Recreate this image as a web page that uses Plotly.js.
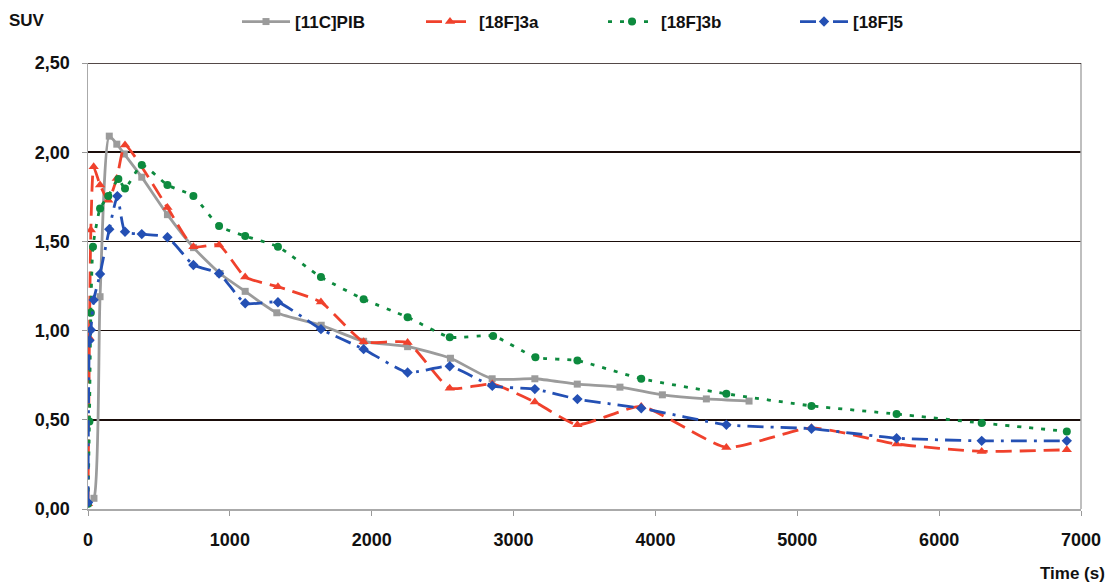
<!DOCTYPE html>
<html>
<head>
<meta charset="utf-8">
<script src="https://cdn.plot.ly/plotly-3.0.1.min.js"></script>
<style>html,body{margin:0;padding:0;background:#fff;}#chart{width:1108px;height:584px;}</style>
</head>
<body>
<div id="chart"></div>
<script>
// [11C]PIB
const pibTime = [0, 42, 85, 150, 203, 256, 379, 560, 744, 931, 1108, 1331, 1644, 1943, 2253, 2555, 2849, 3150, 3449, 3750, 4049, 4359, 4660];
const pibSUV  = [0.03, 0.06, 1.19, 2.09, 2.045, 1.99, 1.86, 1.65, 1.465, 1.32, 1.22, 1.10, 1.03, 0.94, 0.91, 0.845, 0.73, 0.73, 0.70, 0.683, 0.64, 0.617, 0.605];
// [18F]3a
const f3aTime = [0, 10, 20, 40, 85, 143, 203, 261, 560, 743, 924, 1108, 1339, 1642, 1943, 2253, 2550, 2850, 3150, 3450, 3900, 4500, 5100, 5700, 6300, 6900];
const f3aSUV  = [0.03, 0.96, 1.564, 1.918, 1.816, 1.73, 1.853, 2.04, 1.69, 1.47, 1.48, 1.30, 1.246, 1.16, 0.938, 0.933, 0.677, 0.70, 0.60, 0.472, 0.575, 0.345, 0.455, 0.364, 0.323, 0.332];
// [18F]3b
const f3bTime = [0, 10, 20, 35, 85, 143, 214, 261, 379, 560, 743, 924, 1108, 1339, 1642, 1943, 2253, 2550, 2856, 3154, 3450, 3900, 4500, 5100, 5700, 6300, 6900];
const f3bSUV  = [0.03, 0.49, 1.10, 1.47, 1.685, 1.755, 1.85, 1.797, 1.928, 1.816, 1.754, 1.586, 1.53, 1.47, 1.30, 1.176, 1.075, 0.963, 0.97, 0.851, 0.832, 0.73, 0.646, 0.578, 0.532, 0.482, 0.435];
// [18F]5
const f5Time = [0, 10, 20, 40, 85, 150, 207, 261, 379, 560, 743, 924, 1108, 1339, 1642, 1943, 2253, 2550, 2850, 3150, 3450, 3900, 4500, 5100, 5700, 6300, 6900];
const f5SUV  = [0.037, 0.944, 1.004, 1.172, 1.317, 1.568, 1.754, 1.554, 1.541, 1.523, 1.368, 1.32, 1.153, 1.159, 1.008, 0.896, 0.765, 0.80, 0.69, 0.672, 0.616, 0.565, 0.472, 0.45, 0.397, 0.382, 0.382];

const seriesNames = ["[11C]PIB", "[18F]3a", "[18F]3b", "[18F]5"];
const yTicks = [0, 0.5, 1, 1.5, 2, 2.5];
const xTicks = [0, 1000, 2000, 3000, 4000, 5000, 6000, 7000];

const FONT = "Liberation Sans, Arial, sans-serif";
const legFont = {family: FONT, size: 17, color: "#111", weight: "bold"};
function leg(xpx) {
  return {orientation: "h", xref: "container", yref: "container", x: xpx / 1108, y: 1 - 22 / 584,
          xanchor: "left", yanchor: "middle", font: legFont, itemwidth: 48, bgcolor: "rgba(0,0,0,0)",
          borderwidth: 0};
}

const traces = [
  {x: pibTime, y: pibSUV, name: seriesNames[0], mode: "lines+markers", legend: "legend",
   line: {color: "#9b9b9b", width: 2.8, shape: "spline", smoothing: 0.6},
   marker: {symbol: "square", size: 7, color: "#9b9b9b"}},
  {x: f3aTime, y: f3aSUV, name: seriesNames[1], mode: "lines+markers", legend: "legend2",
   line: {color: "#f0412c", width: 2.8, dash: "16px,8px", shape: "spline", smoothing: 0.5},
   marker: {symbol: "triangle-up", size: 9, color: "#f0412c"}},
  {x: f3bTime, y: f3bSUV, name: seriesNames[2], mode: "lines+markers", legend: "legend3",
   line: {color: "#0d8a3e", width: 2.8, dash: "4px,8px", shape: "spline", smoothing: 0.5},
   marker: {symbol: "circle", size: 8, color: "#0d8a3e"}},
  {x: f5Time, y: f5SUV, name: seriesNames[3], mode: "lines+markers", legend: "legend4",
   line: {color: "#2450b4", width: 2.8, dash: "16px,7px,3px,7px", shape: "spline", smoothing: 0.5},
   marker: {symbol: "diamond", size: 8, color: "#2450b4"}}
];

const layout = {
  width: 1108, height: 584,
  margin: {l: 88, r: 27, t: 63, b: 75, autoexpand: false},
  paper_bgcolor: "#fff", plot_bgcolor: "#fff",
  separators: ", ",
  showlegend: true,
  legend: leg(237), legend2: leg(421), legend3: leg(603), legend4: leg(795),
  xaxis: {range: [0, 7000], tickvals: xTicks, ticks: "outside", ticklen: 5, tickcolor: "#999",
          showline: true, linecolor: "#aaa", linewidth: 1.5, mirror: false, showgrid: false, zeroline: false,
          tickfont: {family: FONT, size: 18, color: "#111", weight: "bold"}, ticklabelstandoff: 9},
  yaxis: {range: [0, 2.5], tickvals: yTicks, tickformat: ".2f", ticks: "outside", ticklen: 5, tickcolor: "#999",
          showline: true, linecolor: "#aaa", linewidth: 1.5, showgrid: true, gridcolor: "#1a0d0a", gridwidth: 1.5,
          zeroline: false, ticklabelstandoff: 8,
          tickfont: {family: FONT, size: 18, color: "#111", weight: "bold"}},
  shapes: [
    {type: "line", xref: "paper", yref: "paper", x0: 1, x1: 1, y0: 0, y1: 1, line: {color: "#aaa", width: 1.5}},
    {type: "line", xref: "paper", yref: "y", x0: 0, x1: 1, y0: 2.5, y1: 2.5, line: {color: "#1a0d0a", width: 1.5}}
  ],
  annotations: [
    {text: "SUV", xref: "paper", yref: "paper", x: -0.061, y: 1.095, xanchor: "center", yanchor: "middle", showarrow: false,
     font: {family: FONT, size: 17, color: "#111", weight: "bold"}},
    {text: "Time (s)", xref: "paper", yref: "paper", x: 1.026, y: -0.145, xanchor: "right", yanchor: "middle", showarrow: false,
     font: {family: FONT, size: 17, color: "#111", weight: "bold"}}
  ]
};

Plotly.newPlot("chart", traces, layout, {displayModeBar: false, staticPlot: true});
</script>
</body>
</html>
